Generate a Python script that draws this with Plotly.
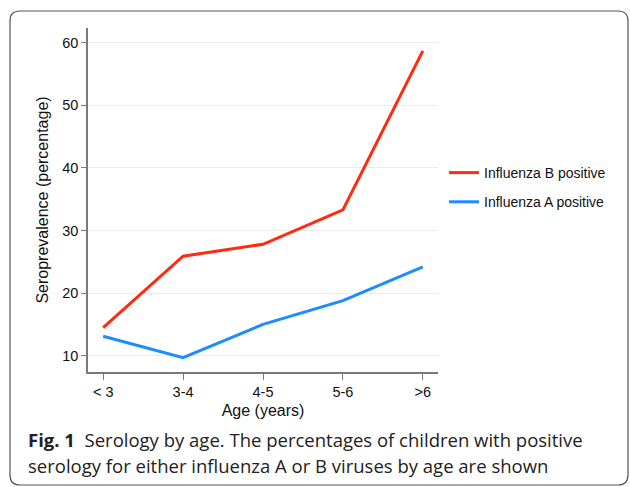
import plotly.graph_objects as go

ages = ["< 3", "3-4", "4-5", "5-6", ">6"]
flu_b = [14.5, 25.9, 27.8, 33.3, 58.7]
flu_a = [13.1, 9.7, 15.0, 18.8, 24.2]
y_ticks = [10, 20, 30, 40, 50, 60]

W, H = 630, 487
L, R, T, B = 88, 438, 28, 372

def px(x):
    return (x - L) / (R - L)

def py(y):
    return (B - y) / (B - T)

fig = go.Figure()
fig.add_trace(go.Scatter(x=ages, y=flu_b, mode="lines", name="Influenza B positive",
                         line=dict(color="#ff2a10", width=3), legendgroup="b"))
fig.add_trace(go.Scatter(x=ages, y=flu_a, mode="lines", name="Influenza A positive",
                         line=dict(color="#1c8cff", width=3), legendgroup="a"))

FAM = "Liberation Sans, Arial, sans-serif"
axis_font = dict(family=FAM, size=14.5, color="#111")

fig.update_layout(
    width=W, height=H,
    margin=dict(l=L, r=W - R, t=T, b=H - B, pad=0),
    paper_bgcolor="white", plot_bgcolor="white",
    showlegend=True,
    legend=dict(x=px(444), y=py(157), xanchor="left", yanchor="top",
                font=dict(family=FAM, size=14, color="#111"),
                traceorder="grouped", tracegroupgap=8, bgcolor="rgba(0,0,0,0)"),
    xaxis=dict(type="category", range=[-0.19, 4.19], showgrid=False,
               showline=True, linecolor="#7a7a7a", linewidth=1.5,
               ticks="outside", ticklen=6, tickcolor="#7a7a7a", tickwidth=1,
               tickfont=axis_font, zeroline=False,
               title=dict(text="Age (years)", font=dict(family=FAM, size=16, color="#111"), standoff=6)),
    yaxis=dict(range=[7.4, 62.35], tickvals=y_ticks, showgrid=True, gridcolor="#ececec", gridwidth=1,
               showline=True, linecolor="#7a7a7a", linewidth=1.5,
               ticks="outside", ticklen=5, tickcolor="#7a7a7a", tickwidth=1,
               tickfont=axis_font, zeroline=False,
               title=dict(text="Seroprevalence (percentage)", font=dict(family=FAM, size=16, color="#111"), standoff=10)),
)

# rounded border
x0, x1, y0, y1 = px(10), px(628), py(485), py(11)
rx, ry = 10 / (R - L), 10 / (B - T)
path = (f"M {x0+rx},{y1} L {x1-rx},{y1} Q {x1},{y1} {x1},{y1-ry} "
        f"L {x1},{y0+ry} Q {x1},{y0} {x1-rx},{y0} L {x0+rx},{y0} "
        f"Q {x0},{y0} {x0},{y0+ry} L {x0},{y1-ry} Q {x0},{y1} {x0+rx},{y1} Z")
fig.add_shape(type="path", path=path, xref="paper", yref="paper",
              line=dict(color="#555", width=1.2), fillcolor="rgba(0,0,0,0)", layer="below")

cap_font = dict(family="Open Sans, Noto Sans, sans-serif", size=18.5, color="#222")
fig.add_annotation(x=px(26), y=py(440), xref="paper", yref="paper", xanchor="left", yanchor="middle",
                   text="<b>Fig. 1</b>  Serology by age. The percentages of children with positive",
                   showarrow=False, font=cap_font)
fig.add_annotation(x=px(26), y=py(465), xref="paper", yref="paper", xanchor="left", yanchor="middle",
                   text="serology for either influenza A or B viruses by age are shown",
                   showarrow=False, font=cap_font)

fig.write_html("out.html", config={"displayModeBar": False},
               post_script="document.body.style.margin='0';document.body.style.overflow='hidden';")
